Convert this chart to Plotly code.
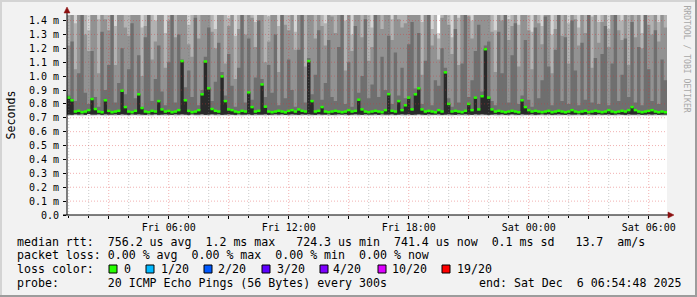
import pandas as pd
import plotly.graph_objects as go

# ---------------- data ----------------
slot_start = "2025-12-05 00:55:00"
slot_minutes = 10
x_range = ["2025-12-05 00:54:48", "2025-12-06 06:54:48"]

# median rtt per slot (ms)
median_ms = [
    0.845, 0.826, 0.745, 0.75, 0.74, 0.745, 0.755, 0.835, 0.763, 0.745, 0.74, 0.826, 0.75, 0.74, 0.745, 0.75, 0.895, 0.777, 0.745, 0.74,
    0.75, 0.869, 0.77, 0.745, 0.74, 0.75, 0.745, 0.82, 0.76, 0.745, 0.75, 0.74, 0.745, 0.755, 1.108, 0.826, 0.75, 0.74, 0.745, 0.755,
    0.869, 1.105, 0.912, 0.763, 0.75, 0.745, 0.998, 0.82, 0.76, 0.755, 0.745, 0.74, 0.75, 0.745, 0.883, 0.777, 0.745, 0.75, 0.94, 0.78,
    0.745, 0.74, 0.745, 0.75, 0.745, 0.74, 0.75, 0.755, 0.745, 0.76, 0.75, 0.745, 1.108, 0.82, 0.745, 0.75, 0.777, 0.745, 0.74, 0.745,
    0.75, 0.745, 0.74, 0.745, 0.755, 0.745, 0.75, 0.83, 0.76, 0.745, 0.74, 0.745, 0.75, 0.745, 0.74, 0.755, 0.87, 0.75, 0.745, 0.82,
    0.755, 0.79, 0.845, 0.76, 0.869, 0.912, 0.76, 0.745, 0.75, 0.745, 0.74, 0.755, 0.745, 1.027, 0.80, 0.745, 0.75, 0.745, 0.74, 0.75,
    0.80, 0.755, 0.845, 0.76, 0.855, 1.194, 0.845, 0.76, 0.745, 0.75, 0.745, 0.74, 0.745, 0.75, 0.745, 0.74, 0.826, 0.777, 0.755, 0.745,
    0.75, 0.745, 0.74, 0.745, 0.75, 0.74, 0.745, 0.75, 0.745, 0.74, 0.745, 0.755, 0.745, 0.74, 0.745, 0.75, 0.74, 0.745, 0.75, 0.745,
    0.74, 0.745, 0.755, 0.745, 0.74, 0.745, 0.75, 0.745, 0.755, 0.777, 0.755, 0.745, 0.74, 0.745, 0.75, 0.755, 0.745, 0.74, 0.745, 0.74,
]

# lowest ping per slot (ms)
ping_min_ms = [
    0.714, 0.712, 0.716, 0.713, 0.711, 0.715, 0.717, 0.712, 0.714, 0.716, 0.713, 0.711, 0.715, 0.714, 0.712, 0.716, 0.713, 0.715, 0.711, 0.714,
    0.716, 0.713, 0.712, 0.715, 0.714, 0.711, 0.716, 0.713, 0.715, 0.712, 0.714, 0.716, 0.711, 0.713, 0.715, 0.714, 0.712, 0.716, 0.713, 0.711,
    0.715, 0.714, 0.712, 0.716, 0.713, 0.711, 0.715, 0.714, 0.712, 0.716, 0.713, 0.715, 0.711, 0.714, 0.716, 0.713, 0.712, 0.715, 0.714, 0.711,
    0.716, 0.713, 0.715, 0.712, 0.714, 0.716, 0.711, 0.713, 0.715, 0.714, 0.712, 0.716, 0.713, 0.711, 0.715, 0.714, 0.712, 0.716, 0.713, 0.715,
    0.711, 0.714, 0.716, 0.713, 0.712, 0.715, 0.714, 0.711, 0.716, 0.713, 0.715, 0.712, 0.714, 0.716, 0.711, 0.713, 0.715, 0.714, 0.712, 0.716,
    0.713, 0.711, 0.715, 0.714, 0.712, 0.716, 0.713, 0.715, 0.711, 0.714, 0.716, 0.713, 0.712, 0.715, 0.714, 0.711, 0.716, 0.713, 0.715, 0.712,
    0.714, 0.716, 0.711, 0.713, 0.715, 0.714, 0.712, 0.716, 0.713, 0.711, 0.715, 0.714, 0.712, 0.716, 0.713, 0.715, 0.711, 0.714, 0.716, 0.713,
    0.712, 0.715, 0.714, 0.711, 0.716, 0.713, 0.715, 0.712, 0.714, 0.716, 0.711, 0.713, 0.715, 0.714, 0.712, 0.716, 0.713, 0.711, 0.715, 0.714,
    0.712, 0.716, 0.713, 0.715, 0.711, 0.714, 0.716, 0.713, 0.712, 0.715, 0.714, 0.711, 0.716, 0.713, 0.715, 0.712, 0.714, 0.716, 0.711, 0.713,
]

# low pings (just under the median) per slot (ms)
ping_low_ms = [
    0.724, 0.722, 0.726, 0.723, 0.725, 0.722, 0.727, 0.724, 0.723, 0.726, 0.722, 0.725, 0.724, 0.723, 0.726, 0.722, 0.725, 0.724, 0.722, 0.726,
    0.723, 0.725, 0.724, 0.722, 0.726, 0.723, 0.725, 0.722, 0.724, 0.726, 0.723, 0.722, 0.725, 0.724, 0.726, 0.723, 0.722, 0.725, 0.724, 0.723,
    0.726, 0.722, 0.724, 0.725, 0.723, 0.726, 0.722, 0.724, 0.725, 0.723, 0.722, 0.726, 0.724, 0.723, 0.725, 0.722, 0.726, 0.724, 0.723, 0.725,
    0.722, 0.724, 0.726, 0.723, 0.725, 0.722, 0.724, 0.726, 0.723, 0.722, 0.725, 0.724, 0.726, 0.723, 0.722, 0.725, 0.724, 0.723, 0.726, 0.722,
    0.724, 0.725, 0.723, 0.726, 0.722, 0.724, 0.725, 0.723, 0.722, 0.726, 0.724, 0.723, 0.725, 0.722, 0.726, 0.724, 0.723, 0.725, 0.722, 0.724,
    0.726, 0.723, 0.725, 0.722, 0.724, 0.726, 0.723, 0.722, 0.725, 0.724, 0.723, 0.726, 0.722, 0.724, 0.725, 0.723, 0.722, 0.726, 0.724, 0.725,
    0.723, 0.722, 0.726, 0.724, 0.725, 0.723, 0.722, 0.724, 0.726, 0.723, 0.725, 0.722, 0.724, 0.726, 0.723, 0.722, 0.725, 0.724, 0.723, 0.726,
    0.722, 0.724, 0.725, 0.723, 0.726, 0.722, 0.724, 0.725, 0.723, 0.722, 0.726, 0.724, 0.723, 0.725, 0.722, 0.724, 0.726, 0.723, 0.722, 0.725,
    0.724, 0.723, 0.726, 0.722, 0.724, 0.725, 0.723, 0.722, 0.726, 0.724, 0.723, 0.725, 0.722, 0.724, 0.726, 0.723, 0.725, 0.722, 0.724, 0.723,
]

# highest ping per slot (ms) -- mostly far above the visible range
ping_max_ms = [
    2.6, 3.1, 2.4, 2.9, 3.6, 2.7, 2.2, 3.3, 3.0, 2.5, 3.8, 2.8, 2.6, 4.1, 2.3, 3.0, 3.4, 2.9, 2.4, 3.7,
    3.2, 3.5, 2.3, 2.8, 3.6, 2.7, 2.5, 3.1, 3.3, 2.2, 2.9, 4.0, 2.6, 3.0, 3.9, 3.4, 2.4, 2.8, 3.5, 2.5,
    3.1, 3.9, 3.5, 2.7, 2.3, 3.0, 3.7, 2.9, 2.4, 3.3, 2.2, 2.8, 3.8, 2.6, 3.2, 3.0, 2.3, 3.4, 3.6, 3.1,
    2.4, 3.2, 3.3, 2.3, 3.7, 2.9, 2.8, 3.2, 2.2, 3.0, 3.8, 2.7, 4.0, 3.1, 2.4, 3.4, 2.9, 2.3, 3.5, 3.0,
    2.7, 3.3, 3.6, 2.4, 3.1, 2.2, 3.4, 3.2, 2.8, 3.7, 3.0, 2.3, 3.9, 3.1, 2.9, 3.3, 3.5, 2.4, 3.2, 3.0,
    2.9, 3.0, 3.2, 3.6, 3.4, 3.5, 2.3, 3.1, 3.7, 2.2, 2.8, 1.31, 3.0, 3.8, 2.9, 2.1, 3.3, 2.4, 3.1, 3.6,
    3.0, 2.3, 3.2, 3.4, 3.3, 4.2, 3.1, 2.9, 2.2, 3.3, 3.0, 3.7, 2.4, 2.9, 3.5, 2.3, 3.1, 3.2, 2.9, 2.2,
    3.4, 3.0, 2.3, 3.5, 3.1, 2.2, 2.9, 3.8, 2.8, 3.2, 2.3, 3.4, 3.0, 2.3, 3.3, 2.8, 3.6, 2.4, 3.1, 2.3,
    3.0, 3.4, 2.2, 3.1, 3.6, 2.9, 2.4, 3.3, 3.0, 3.5, 2.8, 3.2, 2.2, 3.7, 3.0, 2.9, 3.3, 2.3, 3.1, 2.9,
]

# 2nd highest ping group per slot (ms)
ping_hi2_ms = [
    1.92, 2.15, 1.38, 1.85, 2.40, 1.74, 1.33, 2.05, 1.96, 1.41, 2.22, 1.88, 1.70, 2.45, 1.36, 1.93, 2.08, 1.80, 1.52, 2.30,
    1.98, 2.10, 1.35, 1.78, 2.18, 1.72, 1.40, 2.02, 1.95, 1.31, 1.86, 2.38, 1.69, 1.94, 2.28, 2.12, 1.37, 1.82, 2.20, 1.55,
    2.00, 2.35, 2.14, 1.76, 1.34, 1.91, 2.26, 1.83, 1.42, 2.07, 1.29, 1.79, 2.33, 1.73, 2.01, 1.89, 1.39, 2.16, 2.19, 1.97,
    1.43, 1.99, 2.09, 1.36, 2.24, 1.81, 1.75, 2.04, 1.32, 1.90, 2.31, 1.68, 2.42, 1.97, 1.44, 2.11, 1.84, 1.38, 2.17, 1.92,
    1.71, 2.03, 2.23, 1.40, 1.95, 1.30, 2.13, 2.00, 1.77, 2.27, 1.87, 1.35, 2.36, 1.94, 1.82, 2.06, 2.14, 1.41, 1.98, 1.89,
    1.80, 1.85, 2.01, 2.21, 2.10, 2.18, 1.39, 1.93, 2.25, 1.34, 1.76, 1.27, 1.88, 2.32, 1.84, 1.28, 2.04, 1.42, 1.96, 2.20,
    1.90, 1.40, 2.00, 2.12, 2.06, 2.48, 1.94, 1.79, 1.33, 2.07, 1.86, 2.27, 1.41, 1.83, 2.16, 1.37, 1.91, 1.99, 1.81, 1.32,
    2.11, 1.85, 1.36, 2.19, 1.93, 1.30, 1.80, 2.29, 1.74, 2.02, 1.38, 2.13, 1.89, 1.35, 2.06, 1.78, 2.24, 1.43, 1.97, 1.39,
    1.87, 2.10, 1.34, 1.95, 2.20, 1.82, 1.40, 2.05, 1.90, 2.15, 1.76, 2.00, 1.31, 2.26, 1.86, 1.79, 2.08, 1.39, 1.94, 1.84,
]

# 3rd highest ping group per slot (ms)
ping_hi3_ms = [
    1.22, 1.60, 1.05, 1.52, 1.70, 1.30, 1.18, 1.55, 1.47, 1.02, 1.65, 1.41, 1.33, 1.80, 1.08, 1.50, 1.62, 1.35, 1.29, 1.75,
    1.46, 1.58, 1.00, 1.36, 1.68, 1.12, 1.25, 1.57, 1.49, 1.06, 1.40, 1.85, 1.28, 1.53, 1.72, 1.61, 1.23, 1.14, 1.66, 1.27,
    1.54, 1.78, 1.63, 1.32, 1.20, 1.45, 1.69, 1.09, 1.36, 1.59, 0.98, 1.34, 1.74, 1.30, 1.56, 1.42, 1.21, 1.64, 1.67, 1.10,
    1.25, 1.51, 1.60, 1.03, 1.71, 1.37, 1.33, 1.58, 1.19, 1.44, 1.76, 1.07, 1.82, 1.50, 1.27, 1.62, 1.36, 1.22, 1.66, 1.43,
    1.31, 1.55, 1.69, 1.04, 1.47, 1.18, 1.61, 1.52, 1.28, 1.73, 1.11, 1.21, 1.79, 1.46, 1.34, 1.57, 1.63, 1.26, 1.49, 1.41,
    1.35, 1.38, 1.54, 1.67, 1.59, 1.64, 1.01, 1.45, 1.70, 1.22, 1.30, 1.12, 1.42, 1.77, 1.37, 1.16, 1.56, 1.08, 1.48, 1.68,
    1.43, 1.27, 1.53, 1.62, 1.57, 1.88, 1.46, 1.32, 1.03, 1.58, 1.40, 1.71, 1.26, 1.36, 1.65, 1.07, 1.44, 1.50, 1.33, 1.05,
    1.60, 1.38, 1.23, 1.66, 1.45, 1.02, 1.34, 1.74, 1.29, 1.52, 1.09, 1.63, 1.41, 1.22, 1.57, 1.31, 1.70, 1.06, 1.48, 1.24,
    1.39, 1.61, 1.21, 1.47, 1.67, 1.33, 1.26, 1.56, 1.08, 1.64, 1.28, 1.51, 1.20, 1.72, 1.37, 1.30, 1.59, 1.25, 1.46, 1.35,
]

# 4th highest ping group per slot (ms)
ping_hi4_ms = [
    0.86, 1.25, 0.82, 1.02, 1.45, 0.88, 0.80, 1.18, 0.85, 0.78, 1.32, 0.90, 1.08, 1.62, 0.81, 0.95, 1.20, 0.87, 1.05, 1.38,
    0.84, 1.15, 0.78, 1.28, 1.50, 0.82, 0.98, 1.22, 0.89, 0.79, 1.10, 1.66, 0.81, 1.30, 1.12, 0.92, 1.04, 0.85, 1.42, 0.79,
    0.90, 1.14, 1.35, 0.82, 0.96, 1.24, 1.03, 0.86, 1.16, 0.93, 0.78, 1.06, 1.58, 0.81, 1.27, 0.83, 0.99, 1.40, 0.98, 0.85,
    1.08, 0.88, 1.30, 0.79, 1.44, 0.84, 1.12, 0.90, 0.78, 1.19, 1.52, 0.81, 1.13, 0.87, 1.01, 1.33, 0.83, 0.95, 1.26, 0.85,
    0.82, 1.21, 1.48, 0.80, 1.10, 0.78, 1.36, 0.88, 1.00, 1.41, 0.84, 0.94, 1.60, 0.85, 1.14, 0.90, 1.29, 0.80, 1.17, 0.86,
    1.06, 0.84, 1.23, 1.39, 0.91, 1.31, 0.80, 1.11, 1.54, 0.79, 0.97, 0.93, 1.20, 1.06, 0.84, 0.78, 1.34, 0.81, 1.09, 1.46,
    0.85, 0.97, 1.18, 1.37, 0.89, 1.22, 1.25, 0.82, 0.79, 1.32, 1.02, 1.47, 0.81, 1.15, 1.38, 0.80, 0.86, 1.26, 0.83, 0.78,
    1.35, 0.84, 0.97, 1.43, 1.07, 0.79, 1.19, 1.57, 0.82, 1.28, 0.80, 1.40, 1.04, 0.79, 1.24, 0.83, 1.49, 0.81, 1.13, 0.80,
    1.16, 1.36, 0.79, 1.09, 1.45, 0.82, 1.01, 1.27, 0.85, 1.39, 0.81, 1.21, 0.79, 1.55, 1.05, 0.82, 1.33, 0.80, 1.12, 0.97,
]

y_tick_vals = [0.0, 0.1, 0.2, 0.3, 0.4, 0.5, 0.6, 0.7, 0.8, 0.9, 1.0, 1.1, 1.2, 1.3, 1.4]
y_tick_text = ["0.0", "0.1 m", "0.2 m", "0.3 m", "0.4 m", "0.5 m", "0.6 m", "0.7 m",
               "0.8 m", "0.9 m", "1.0 m", "1.1 m", "1.2 m", "1.3 m", "1.4 m"]
y_max = 1.44

x_tick_vals = ["2025-12-05 03:00", "2025-12-05 06:00", "2025-12-05 09:00", "2025-12-05 12:00",
               "2025-12-05 15:00", "2025-12-05 18:00", "2025-12-05 21:00", "2025-12-06 00:00",
               "2025-12-06 03:00", "2025-12-06 06:00"]
x_tick_text = ["", "Fri 06:00", "", "Fri 12:00", "", "Fri 18:00", "", "Sat 00:00", "", "Sat 06:00"]
x_minor_hours = [h for h in pd.date_range("2025-12-05 01:00", "2025-12-06 06:00", freq="1h")
                 if h.hour % 3 != 0]

stats_median = "median rtt:  756.2 us avg  1.2 ms max   724.3 us min  741.4 us now  0.1 ms sd   13.7  am/s"
stats_loss = "packet loss: 0.00 % avg  0.00 % max  0.00 % min  0.00 % now"
loss_title = "loss color:"
loss_labels = ["0", "1/20", "2/20", "3/20", "4/20", "10/20", "19/20"]
loss_colors = ["#26ff00", "#00b8ff", "#0059ff", "#5e00ff", "#7e00ff", "#dd00ff", "#ff0000"]
probe_text = "probe:       20 ICMP Echo Pings (56 Bytes) every 300s"
end_text = "end: Sat Dec  6 06:54:48 2025"

# ---------------- geometry helpers (pixel -> paper) ----------------
PL, PR, PT, PB = 67, 667, 15, 215
W, H = 697, 297


def px(x):
    return (x - PL) / (PR - PL)


def py(y):
    return (PB - y) / (PB - PT)


t0 = list(pd.date_range(slot_start, periods=len(median_ms), freq=f"{slot_minutes}min"))
t1 = [t + pd.Timedelta(minutes=slot_minutes) for t in t0]


def band_polygon(lo, hi):
    xs, ys = [], []
    for a, b, h in zip(t0, t1, hi):
        xs += [a, b]
        ys += [h, h]
    for a, b, l in reversed(list(zip(t0, t1, lo))):
        xs += [b, a]
        ys += [l, l]
    return xs, ys


fig = go.Figure()

bands = [
    (ping_min_ms, ping_max_ms, "#d4d4d4"),
    (ping_low_ms, ping_hi2_ms, "#b2b2b2"),
    (ping_low_ms, ping_hi3_ms, "#929292"),
    (ping_low_ms, ping_hi4_ms, "#6f6f6f"),
    (ping_low_ms, median_ms, "#2a2a2a"),
]
for lo, hi, col in bands:
    xs, ys = band_polygon(lo, hi)
    fig.add_trace(go.Scatter(x=xs, y=ys, mode="lines", fill="toself", fillcolor=col,
                             line=dict(width=0, color=col, simplify=False),
                             hoverinfo="skip", showlegend=False))

# median blocks
mx, my = [], []
for a, b, m in zip(t0, t1, median_ms):
    mx += [a, b, None]
    my += [m, m, None]
fig.add_trace(go.Scatter(x=mx, y=my, mode="lines", line=dict(color="#26ff00", width=2.5),
                         hoverinfo="skip", showlegend=False, connectgaps=False))

shapes = []
# grid lines (drawn above the smoke like rrdtool)
minor_col = "rgba(120,120,120,0.4)"
major_col = "rgba(215,50,50,0.38)"
for h in x_minor_hours:
    shapes.append(dict(type="line", xref="x", yref="paper", x0=h, x1=h, y0=0, y1=1,
                       line=dict(color=minor_col, width=1, dash="1px,2px"), layer="above"))
for v in x_tick_vals:
    shapes.append(dict(type="line", xref="x", yref="paper", x0=v, x1=v, y0=0, y1=1,
                       line=dict(color=major_col, width=1, dash="1px,2px"), layer="above"))
for v in y_tick_vals[1:]:
    shapes.append(dict(type="line", xref="paper", yref="y", x0=0, x1=1, y0=v, y1=v,
                       line=dict(color=major_col, width=1, dash="1px,2px"), layer="above"))

# axes lines and arrows
shapes.append(dict(type="line", xref="paper", yref="paper", x0=px(67), x1=px(67), y0=py(215), y1=py(10),
                   line=dict(color="black", width=1), layer="above"))
shapes.append(dict(type="line", xref="paper", yref="paper", x0=px(63), x1=px(670), y0=py(215), y1=py(215),
                   line=dict(color="black", width=1), layer="above"))
shapes.append(dict(type="path", xref="paper", yref="paper",
                   path=f"M {px(64)} {py(13)} L {px(70)} {py(13)} L {px(67)} {py(7)} Z",
                   fillcolor="#8c1010", line=dict(color="#8c1010", width=0.5), layer="above"))
shapes.append(dict(type="path", xref="paper", yref="paper",
                   path=f"M {px(668)} {py(212)} L {px(668)} {py(218)} L {px(674)} {py(215)} Z",
                   fillcolor="#8c1010", line=dict(color="#8c1010", width=0.5), layer="above"))

# image border (3D shade)
shapes.append(dict(type="rect", xref="paper", yref="paper", x0=px(0), x1=px(W), y0=py(0), y1=py(2),
                   fillcolor="#d4d4d4", line=dict(width=0), layer="above"))
shapes.append(dict(type="rect", xref="paper", yref="paper", x0=px(0), x1=px(2), y0=py(0), y1=py(H),
                   fillcolor="#d4d4d4", line=dict(width=0), layer="above"))
shapes.append(dict(type="rect", xref="paper", yref="paper", x0=px(W - 2), x1=px(W), y0=py(0), y1=py(H),
                   fillcolor="#9c9c9c", line=dict(width=0), layer="above"))
shapes.append(dict(type="rect", xref="paper", yref="paper", x0=px(0), x1=px(W), y0=py(H - 2), y1=py(H),
                   fillcolor="#9c9c9c", line=dict(width=0), layer="above"))

# loss colour squares
sq_left = [109, 146, 204, 262, 320, 378, 442]
lbl_left = [123, 160, 217, 276, 332, 391, 456]
for xl, col in zip(sq_left, loss_colors):
    shapes.append(dict(type="rect", xref="paper", yref="paper", x0=px(xl), x1=px(xl + 8),
                       y0=py(265), y1=py(273), fillcolor=col, line=dict(color="black", width=1)))

MONO = "DejaVu Sans Mono"


def ann(text, x, y, size=11.6, color="black", xanchor="left", angle=0):
    return dict(text=text.replace(" ", "\u00a0"), x=px(x), y=py(y), xref="paper", yref="paper",
                showarrow=False, xanchor=xanchor, yanchor="middle", textangle=angle, borderpad=0,
                font=dict(family=MONO, size=size, color=color))


annotations = [
    ann(stats_median, 16, 241.5),
    ann(stats_loss, 16, 255),
    ann(loss_title, 16, 269),
    ann(probe_text, 16, 283),
    ann(end_text, 477.5, 283),
    ann("Seconds", 10.5, 115, xanchor="center", angle=-90),
    ann("RRDTOOL / TOBI OETIKER", 686.5, 59, size=8.1, color="#a8a8a8", xanchor="center", angle=90),
]
for xl, lab in zip(lbl_left, loss_labels):
    annotations.append(ann(lab, xl, 269))

fig.update_layout(
    width=W, height=H,
    margin=dict(l=PL, r=W - PR, t=PT, b=H - PB),
    paper_bgcolor="#f2f2f2", plot_bgcolor="#ffffff",
    showlegend=False,
    shapes=shapes, annotations=annotations,
    xaxis=dict(type="date", range=x_range, showgrid=False, zeroline=False, showline=False,
               tickmode="array", tickvals=x_tick_vals, ticktext=x_tick_text,
               ticks="outside", ticklen=3, tickcolor="black", tickwidth=1,
               tickfont=dict(family=MONO, size=10, color="black"),
               minor=dict(ticks="outside", ticklen=2, tickcolor="black", dtick=3600000,
                          tick0="2025-12-05 00:00", showgrid=False)),
    yaxis=dict(range=[0, y_max], showgrid=False, zeroline=False, showline=False,
               tickmode="array", tickvals=y_tick_vals, ticktext=y_tick_text,
               ticks="outside", ticklen=3, tickcolor="black", tickwidth=1, ticklabelstandoff=2,
               tickfont=dict(family=MONO, size=10, color="black")),
)

fig.write_html("out.html")
